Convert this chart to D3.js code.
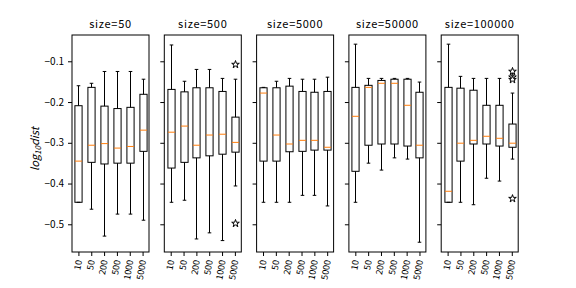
<!DOCTYPE html>
<html lang="en">
<head>
<meta charset="UTF-8">
<title>log10 dist boxplots</title>
<script src="https://d3js.org/d3.v7.min.js"></script>
<style>
  body { margin: 0; background: #fff; }
  text { font-family: "Noto Sans CJK JP", "DejaVu Sans", sans-serif; fill: #000; }
</style>
</head>
<body>
<script>
const panels = ["size=50", "size=500", "size=5000", "size=50000", "size=100000"];
const groups = ["10", "50", "200", "500", "1000", "5000"];
const yTicks = [-0.1, -0.2, -0.3, -0.4, -0.5];

// one row per panel, one value per group
const whiskerHigh = [
    [-0.160, -0.154, -0.125, -0.125, -0.125, -0.144],
    [-0.060, -0.149, -0.120, -0.120, -0.142, -0.144],
    [-0.164, -0.149, -0.142, -0.144, -0.144, -0.139],
    [-0.058, -0.142, -0.142, -0.142, -0.142, -0.151],
    [-0.058, -0.137, -0.142, -0.142, -0.142, -0.178]
];
const q3 = [
    [-0.209, -0.164, -0.210, -0.216, -0.213, -0.181],
    [-0.169, -0.175, -0.165, -0.165, -0.174, -0.237],
    [-0.165, -0.165, -0.161, -0.174, -0.176, -0.174],
    [-0.164, -0.159, -0.147, -0.144, -0.144, -0.176],
    [-0.164, -0.166, -0.171, -0.208, -0.208, -0.254]
];
const median = [
    [-0.345, -0.306, -0.302, -0.313, -0.309, -0.269],
    [-0.274, -0.259, -0.306, -0.281, -0.279, -0.299],
    [-0.178, -0.281, -0.303, -0.294, -0.294, -0.311],
    [-0.235, -0.164, -0.154, -0.154, -0.208, -0.306],
    [-0.419, -0.301, -0.294, -0.284, -0.289, -0.301]
];
const q1 = [
    [-0.446, -0.348, -0.352, -0.350, -0.350, -0.321],
    [-0.362, -0.348, -0.337, -0.332, -0.328, -0.323],
    [-0.345, -0.345, -0.322, -0.321, -0.318, -0.318],
    [-0.370, -0.306, -0.303, -0.303, -0.308, -0.337],
    [-0.446, -0.345, -0.303, -0.303, -0.308, -0.311]
];
const whiskerLow = [
    [-0.446, -0.463, -0.529, -0.475, -0.475, -0.490],
    [-0.446, -0.441, -0.536, -0.521, -0.540, -0.406],
    [-0.446, -0.446, -0.446, -0.429, -0.429, -0.455],
    [-0.446, -0.350, -0.367, -0.337, -0.340, -0.544],
    [-0.446, -0.446, -0.452, -0.387, -0.394, -0.340]
];
// outliers: [panel, group, value]
const fliers = [
    [1, 5, -0.108], [1, 5, -0.498],
    [4, 5, -0.125], [4, 5, -0.139], [4, 5, -0.145], [4, 5, -0.437]
];

const width = 576, height = 288;
const svg = d3.select("body").append("svg").attr("width", width).attr("height", height);

const plotTop = 35, plotBottom = 252, panelW = 77, step = 92.3, firstLeft = 72;
const y = d3.scaleLinear().domain([-0.568, -0.0355]).range([plotBottom, plotTop]);

panels.forEach((title, p) => {
    const left = firstLeft + p * step;
    const x = d3.scaleLinear().domain([0.5, 6.5]).range([left, left + panelW]);
    const g = svg.append("g");
    const boxW = 0.56 * (x(2) - x(1));
    const capW = boxW / 2;

    groups.forEach((lab, i) => {
        const cx = Math.round(x(i + 1)) + 0.5;
        const line = (x1, y1, x2, y2, color) => g.append("line")
            .attr("x1", x1).attr("y1", y1).attr("x2", x2).attr("y2", y2)
            .attr("stroke", color || "#000").attr("stroke-width", 1);
        // whiskers
        line(cx, y(whiskerHigh[p][i]), cx, y(q3[p][i]));
        line(cx, y(q1[p][i]), cx, y(whiskerLow[p][i]));
        line(cx - capW / 2, y(whiskerHigh[p][i]), cx + capW / 2, y(whiskerHigh[p][i]));
        line(cx - capW / 2, y(whiskerLow[p][i]), cx + capW / 2, y(whiskerLow[p][i]));
        // box
        g.append("rect")
            .attr("x", cx - boxW / 2).attr("y", y(q3[p][i]))
            .attr("width", boxW).attr("height", y(q1[p][i]) - y(q3[p][i]))
            .attr("fill", "none").attr("stroke", "#000").attr("stroke-width", 1);
        line(cx - boxW / 2, y(median[p][i]), cx + boxW / 2, y(median[p][i]), "#ff7f0e");
    });

    fliers.filter(f => f[0] === p).forEach(f => {
        g.append("path")
            .attr("d", d3.symbol().type(d3.symbolStar).size(18)())
            .attr("transform", `translate(${Math.round(x(f[1] + 1)) + 0.5},${y(f[2])})`)
            .attr("fill", "#fff").attr("stroke", "#000").attr("stroke-width", 1);
    });

    // frame
    g.append("rect")
        .attr("x", left).attr("y", plotTop).attr("width", panelW).attr("height", plotBottom - plotTop)
        .attr("fill", "none").attr("stroke", "#000").attr("stroke-width", 1);

    // x axis
    const xAxis = g.append("g").attr("transform", `translate(0,${plotBottom})`)
        .call(d3.axisBottom(x).tickValues([1, 2, 3, 4, 5, 6])
            .tickFormat((d, i) => groups[i]).tickSize(4).tickPadding(3));
    xAxis.select(".domain").remove();
    xAxis.selectAll("line").attr("stroke", "#000");
    xAxis.selectAll("text")
        .attr("font-size", 9)
        .attr("font-family", "\"Noto Sans CJK JP\", \"DejaVu Sans\", sans-serif")
        .attr("text-anchor", "end")
        .attr("y", 0)
        .attr("dy", "0.35em")
        .attr("transform", "translate(0,8) rotate(-80)");

    // y axis ticks on every panel, labels only on the first
    const yAxis = g.append("g").attr("transform", `translate(${left},0)`)
        .call(d3.axisLeft(y).tickValues(yTicks)
            .tickFormat(p === 0 ? (d => d3.format(".1f")(d).replace("-", "\u2212")) : "")
            .tickSize(4).tickPadding(4));
    yAxis.select(".domain").remove();
    yAxis.selectAll("line").attr("stroke", "#000");
    yAxis.selectAll("text").attr("font-size", 10)
        .attr("font-family", "\"Noto Sans CJK JP\", \"DejaVu Sans\", sans-serif");

    g.append("text")
        .attr("x", left + panelW / 2).attr("y", 28)
        .attr("text-anchor", "middle").attr("font-size", 11)
        .attr("letter-spacing", 0.7)
        .text(title);
});

// y label
const yl = svg.append("text")
    .attr("transform", "translate(39,149) rotate(-90)")
    .attr("text-anchor", "middle").attr("font-size", 11).attr("font-style", "italic");
yl.append("tspan").text("log");
yl.append("tspan").attr("font-size", 8).attr("dy", 2).text("10");
yl.append("tspan").attr("dy", -2).text("dist");
</script>
</body>
</html>
